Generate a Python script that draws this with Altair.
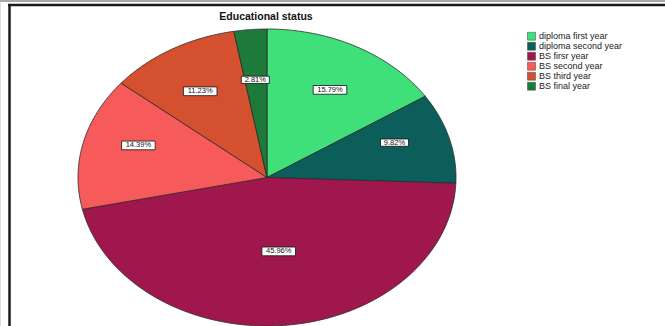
import altair as alt
import pandas as pd

categories = ["diploma first year", "diploma second year", "BS firsr year",
              "BS second year", "BS third year", "BS final year"]
percents = [15.79, 9.82, 45.96, 14.39, 11.23, 2.81]
labels = ["15.79%", "9.82%", "45.96%", "14.39%", "11.23%", "2.81%"]
colors = ["#3fe07a", "#0b5e5a", "#a0174e", "#f75a5a", "#d4502e", "#1d7a3a"]
title_text = "Educational status"

df = pd.DataFrame({"category": categories, "pct": percents, "label": labels,
                   "order": list(range(len(categories)))})

N = 80
xs = alt.Scale(domain=[-1, 1], range=[78, 456])
ys = alt.Scale(domain=[-1, 1], range=[326, 29])
fill_scale = alt.Scale(domain=categories, range=colors)

base = (alt.Chart(df)
        .transform_window(cum="sum(pct)", sort=[alt.SortField("order")], frame=[None, 0])
        .transform_calculate(start="datum.cum - datum.pct"))

poly = (base
        .transform_calculate(idx=f"sequence(0, {N + 3})")
        .transform_flatten(["idx"])
        .transform_calculate(t=f"clamp((datum.idx - 1) / {N}, 0, 1)")
        .transform_calculate(a="2 * PI * (datum.start + datum.pct * datum.t) / 100")
        .transform_calculate(px=f"(datum.idx == 0 || datum.idx == {N + 2}) ? 0 : sin(datum.a)")
        .transform_calculate(py=f"(datum.idx == 0 || datum.idx == {N + 2}) ? 0 : cos(datum.a)")
        .mark_line(stroke="#2b2b2b", strokeWidth=0.8, strokeJoin="round")
        .encode(
            x=alt.X("px:Q", scale=xs, axis=None),
            y=alt.Y("py:Q", scale=ys, axis=None),
            fill=alt.Fill("category:N", scale=fill_scale,
                          legend=alt.Legend(title=None, orient="none", legendX=527, legendY=31.5,
                                            symbolType="square", symbolSize=64,
                                            symbolStrokeColor="#444", symbolStrokeWidth=0.5,
                                            labelFont="Liberation Sans", labelFontSize=9,
                                            labelColor="#222", rowPadding=0, labelOffset=3,
                                            clipHeight=9.3)),
            order=alt.Order("idx:Q"),
        ))

lab = (base
       .transform_calculate(mid="2 * PI * (datum.start + datum.pct / 2) / 100")
       .transform_calculate(lx="0.7 * sin(datum.mid)")
       .transform_calculate(ly="0.08 + 0.58 * cos(datum.mid)")
       .transform_calculate(bs="pow(5.6 * length(datum.label), 2)"))

boxes = lab.mark_point(shape="M-1,-0.26H1V0.26H-1Z", filled=True, fill="white",
                       stroke="#111", strokeWidth=0.8, opacity=1).encode(
    x=alt.X("lx:Q", scale=xs, axis=None),
    y=alt.Y("ly:Q", scale=ys, axis=None),
    size=alt.Size("bs:Q", scale=None, legend=None),
)
texts = lab.mark_text(font="Liberation Sans", fontSize=7.5, color="#111",
                      align="center", baseline="middle").encode(
    x=alt.X("lx:Q", scale=xs, axis=None),
    y=alt.Y("ly:Q", scale=ys, axis=None),
    text="label:N",
)

title = alt.Chart(alt.Data(values=[{"t": title_text}])).mark_text(
    font="Liberation Sans", fontSize=10.5, fontWeight="bold", color="#111",
    align="center", baseline="middle").encode(
    x=alt.value(266), y=alt.value(17), text="t:N")

one = alt.Data(values=[{"v": 1}])
gray_top = alt.Chart(one).mark_rule(color="#a8a8a8", strokeWidth=2).encode(
    x=alt.value(0), x2=alt.value(665), y=alt.value(1))
black_top = alt.Chart(one).mark_rule(color="#1a1a1a", strokeWidth=2.5).encode(
    x=alt.value(8), x2=alt.value(665), y=alt.value(5))
black_left = alt.Chart(one).mark_rule(color="#1a1a1a", strokeWidth=2.5).encode(
    x=alt.value(9.5), y=alt.value(4), y2=alt.value(326))

chart = alt.layer(poly, boxes, texts, title, gray_top, black_top, black_left).properties(
    width=665, height=326, autosize=alt.AutoSizeParams(type="none"), padding=0,
).configure_view(stroke=None).configure(background="white")

chart.save("out.html", embed_options={"renderer": "svg", "actions": False})
